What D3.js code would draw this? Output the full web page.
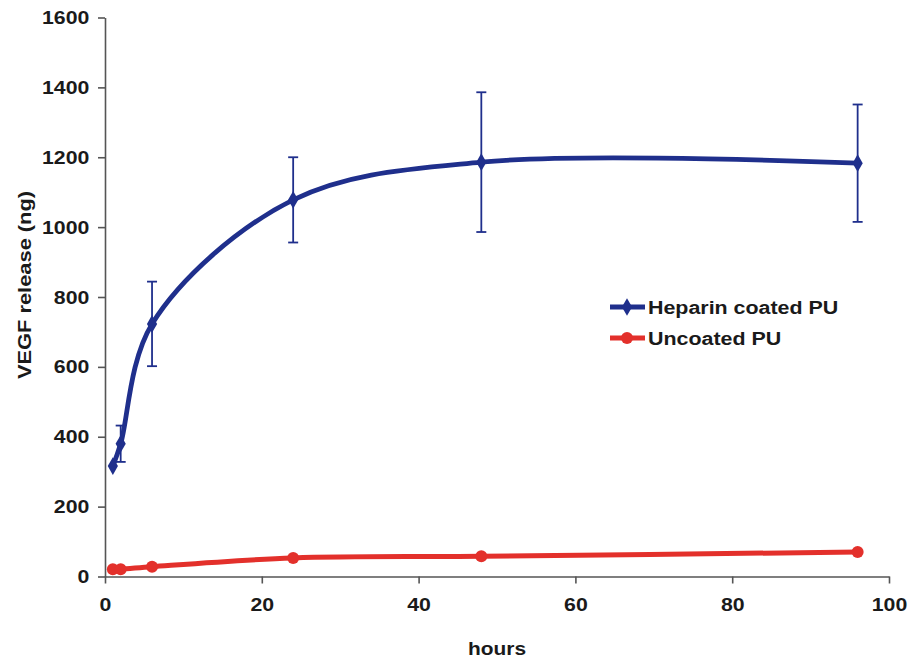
<!DOCTYPE html>
<html>
<head>
<meta charset="utf-8">
<script src="https://cdn.jsdelivr.net/npm/d3@7"></script>
<style>
  html, body { margin: 0; padding: 0; background: #fff; }
  text { font-family: "Liberation Sans", Arial, sans-serif; font-weight: bold; fill: #1a1a1a; }
</style>
</head>
<body>
<svg id="chart" width="909" height="658"></svg>
<script>
// Sampling times (hours)
const hours = [1, 2, 6, 24, 48, 96];
// Cumulative VEGF release (ng)
const heparinMean = [316, 380, 723, 1078, 1186, 1183];
const heparinErr  = [0, 52, 121, 122, 200, 168];
const uncoatedMean = [21, 21, 28, 53, 58, 70];

const xTicks = [0, 20, 40, 60, 80, 100];
const yTicks = [0, 200, 400, 600, 800, 1000, 1200, 1400, 1600];

const seriesNames = ["Heparin coated PU", "Uncoated PU"];
const blue = "#1f2f8c";
const red = "#e3302b";

// Bold type is drawn slightly widened
const TICK_FS = 19, TICK_SX = 1.12;

const svg = d3.select("#chart");
const x = d3.scaleLinear().domain([0, 100]).range([105, 889]);
const y = d3.scaleLinear().domain([0, 1600]).range([576.5, 17.5]);

const fmt = d3.format("d");
const xAxis = d3.axisBottom(x).tickValues(xTicks).tickFormat(fmt).tickSizeInner(7).tickSizeOuter(0).tickPadding(14);
const yAxis = d3.axisLeft(y).tickValues(yTicks).tickFormat(fmt).tickSizeInner(7).tickSizeOuter(0).tickPadding(7);

const gx = svg.append("g").attr("transform", `translate(0,${y(0)})`).call(xAxis);
const gy = svg.append("g").attr("transform", `translate(${x(0)},0)`).call(yAxis);

[gx, gy].forEach(g => {
  g.select(".domain").attr("stroke", "#555").attr("stroke-width", 1.6);
  g.selectAll(".tick line").attr("stroke", "#555").attr("stroke-width", 1.6);
  g.selectAll(".tick text")
    .attr("font-size", TICK_FS)
    .attr("font-family", "Liberation Sans, Arial, sans-serif")
    .attr("font-weight", "bold")
    .attr("fill", "#1a1a1a")
    .attr("transform", `scale(${TICK_SX},1)`);
});

// Axis titles
svg.append("text").attr("transform", "translate(497,655) scale(1.1,1)").attr("text-anchor", "middle")
  .attr("font-size", 19).text("hours");
svg.append("text").attr("transform", "translate(31,285) rotate(-90) scale(1.15,1)").attr("text-anchor", "middle")
  .attr("font-size", 19).text("VEGF release (ng)");

const line = d3.line().x(d => x(d[0])).y(d => y(d[1])).curve(d3.curveCatmullRom.alpha(0.5));

// Error bars for the heparin coated series
const eb = svg.append("g").attr("stroke", blue).attr("stroke-width", 1.8);
hours.forEach((h, i) => {
  const e = heparinErr[i];
  if (!e) return;
  const cx = x(h), top = y(heparinMean[i] + e), bot = y(heparinMean[i] - e);
  eb.append("line").attr("x1", cx).attr("x2", cx).attr("y1", top).attr("y2", bot);
  eb.append("line").attr("x1", cx - 5).attr("x2", cx + 5).attr("y1", top).attr("y2", top);
  eb.append("line").attr("x1", cx - 5).attr("x2", cx + 5).attr("y1", bot).attr("y2", bot);
});

// Uncoated series
const redData = hours.map((h, i) => [h, uncoatedMean[i]]);
svg.append("path").datum(redData).attr("d", line).attr("fill", "none")
  .attr("stroke", red).attr("stroke-width", 5);
svg.selectAll("circle.red").data(redData).enter().append("circle")
  .attr("cx", d => x(d[0])).attr("cy", d => y(d[1])).attr("r", 6).attr("fill", red);

// Heparin coated series
const blueData = hours.map((h, i) => [h, heparinMean[i]]);
svg.append("path").datum(blueData).attr("d", line).attr("fill", "none")
  .attr("stroke", blue).attr("stroke-width", 4.8);
const diamond = d3.symbol().type(d3.symbolDiamond).size(90);
svg.selectAll("path.dia").data(blueData).enter().append("path")
  .attr("d", diamond).attr("transform", d => `translate(${x(d[0])},${y(d[1])})`).attr("fill", blue);

// Legend
const legend = svg.append("g");
const lg = [[seriesNames[0], blue, "diamond"], [seriesNames[1], red, "circle"]];
lg.forEach((item, i) => {
  const ly = 307 + i * 31;
  legend.append("line").attr("x1", 610).attr("x2", 645).attr("y1", ly).attr("y2", ly)
    .attr("stroke", item[1]).attr("stroke-width", i ? 5 : 4.8);
  if (item[2] === "diamond") {
    legend.append("path").attr("d", diamond).attr("transform", `translate(627,${ly})`).attr("fill", item[1]);
  } else {
    legend.append("circle").attr("cx", 627).attr("cy", ly).attr("r", 6).attr("fill", item[1]);
  }
  legend.append("text").attr("transform", `translate(648,${ly + 7}) scale(1.19,1)`)
    .attr("font-size", 18).text(item[0]);
});
</script>
</body>
</html>
